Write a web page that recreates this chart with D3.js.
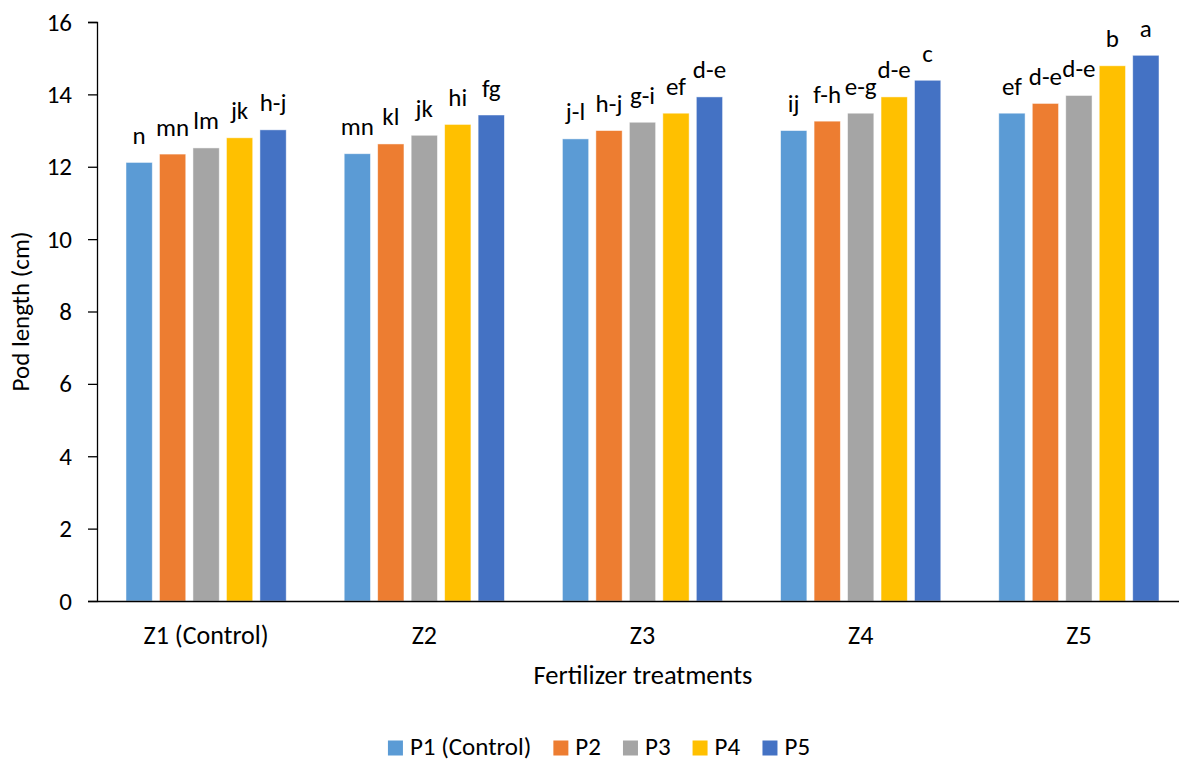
<!DOCTYPE html>
<html>
<head>
<meta charset="utf-8">
<script src="https://cdn.jsdelivr.net/npm/d3@7"></script>
<style>
  body { margin: 0; background: #fff; }
  svg text { font-family: Carlito, 'Open Sans', sans-serif; fill: #000; }
</style>
</head>
<body>
<div id="chart"></div>
<script>
// data
var zones = ['Z1 (Control)', 'Z2', 'Z3', 'Z4', 'Z5']
var series = ['P1 (Control)', 'P2', 'P3', 'P4', 'P5']

var p1 = [12.12, 12.36, 12.77, 13.0, 13.48]
var p2 = [12.35, 12.63, 13.0, 13.26, 13.75]
var p3 = [12.52, 12.87, 13.23, 13.48, 13.97]
var p4 = [12.8, 13.17, 13.48, 13.93, 14.79]
var p5 = [13.02, 13.43, 13.93, 14.39, 15.08]

var letters = [
  ['n', 'mn', 'lm', 'jk', 'h-j'],
  ['mn', 'kl', 'jk', 'hi', 'fg'],
  ['j-l', 'h-j', 'g-i', 'ef', 'd-e'],
  ['ij', 'f-h', 'e-g', 'd-e', 'c'],
  ['ef', 'd-e', 'd-e', 'b', 'a']
]

var yTicks = [0, 2, 4, 6, 8, 10, 12, 14, 16]

var colors = ['#5B9BD5', '#ED7D31', '#A5A5A5', '#FFC000', '#4472C4']

var margin = { top: 22, left: 97, right: -9, bottom: 161 }
var fullW = 1179
var fullH = 762
var width = fullW - margin.left - margin.right
var height = fullH - margin.top - margin.bottom

var svg = d3
  .select('#chart')
  .append('svg')
  .attr('width', fullW)
  .attr('height', fullH)

var g = svg
  .append('g')
  .attr('transform', 'translate(' + margin.left + ',' + margin.top + ')')

var values = [p1, p2, p3, p4, p5]
var rows = zones.map((z, i) => ({
  zone: z,
  bars: series.map((s, j) => ({ series: s, idx: j, value: values[j][i], label: letters[i][j] }))
}))

var x0 = d3.scaleBand().domain(zones).range([0, width])
var x1 = d3
  .scaleBand()
  .domain(series)
  .range([0, x0.bandwidth()])
  .paddingInner(0.215)
  .paddingOuter(0.866)
var y = d3.scaleLinear().domain([0, 16]).range([height, 0])
var color = d3.scaleOrdinal().domain(series).range(colors)

// groups
var groups = g
  .selectAll('.zone')
  .data(rows)
  .enter()
  .append('g')
  .attr('class', 'zone')
  .attr('transform', d => 'translate(' + x0(d.zone) + ',0)')

groups
  .selectAll('rect')
  .data(d => d.bars)
  .enter()
  .append('rect')
  .attr('x', d => x1(d.series))
  .attr('width', x1.bandwidth())
  .attr('y', d => y(d.value))
  .attr('height', d => y(0) - y(d.value))
  .attr('fill', d => color(d.series))
  .attr('stroke', 'rgba(255,255,255,0.6)')
  .attr('stroke-width', 0.8)

groups
  .selectAll('.lbl')
  .data(d => d.bars)
  .enter()
  .append('text')
  .attr('class', 'lbl')
  .attr('x', d => x1(d.series) + x1.bandwidth() / 2)
  .attr('y', d => y(d.value) - 18.5)
  .attr('text-anchor', 'middle')
  .attr('font-size', 25)
  .text(d => d.label)

// axes
var yAxis = d3.axisLeft(y).tickValues(yTicks).tickSize(9).tickPadding(16)
var yG = g.append('g').attr('class', 'axis y-axis').call(yAxis)
yG.select('.domain').attr('stroke', '#000').attr('stroke-width', 1.3)
yG.selectAll('.tick line').attr('stroke', '#000').attr('stroke-width', 1.3)
yG.selectAll('.tick text').attr('font-size', 25).attr('fill', '#000')

var xAxis = d3.axisBottom(x0).tickSize(0).tickPadding(25)
var xG = g
  .append('g')
  .attr('class', 'axis x-axis')
  .attr('transform', 'translate(0,' + height + ')')
  .call(xAxis)
xG.select('.domain').attr('stroke', '#000').attr('stroke-width', 1.3)
xG.selectAll('.tick text').attr('font-size', 26).attr('fill', '#000')

// axis titles
svg
  .append('text')
  .text('Fertilizer treatments')
  .attr('x', 643)
  .attr('y', 684)
  .attr('text-anchor', 'middle')
  .attr('font-size', 26.5)

svg
  .append('text')
  .text('Pod length (cm)')
  .attr('transform', 'translate(29,' + (margin.top + height / 2) + ') rotate(-90)')
  .attr('text-anchor', 'middle')
  .attr('font-size', 25)

// legend
var legend = svg.append('g').attr('class', 'legend')
var items = legend
  .selectAll('.item')
  .data(series)
  .enter()
  .append('g')
  .attr('class', 'item')

items
  .append('rect')
  .attr('width', 15)
  .attr('height', 15)
  .attr('y', -7.5)
  .attr('fill', d => color(d))

items
  .append('text')
  .attr('x', 22)
  .attr('y', 6.5)
  .attr('font-size', 25)
  .text(d => d)

var cursor = 0
items.each(function() {
  var w = this.getBBox().width
  d3.select(this).attr('transform', 'translate(' + cursor + ',0)')
  cursor += w + 22
})
var total = cursor - 22
legend.attr('transform', 'translate(' + (599 - total / 2) + ',748)')
</script>
</body>
</html>
